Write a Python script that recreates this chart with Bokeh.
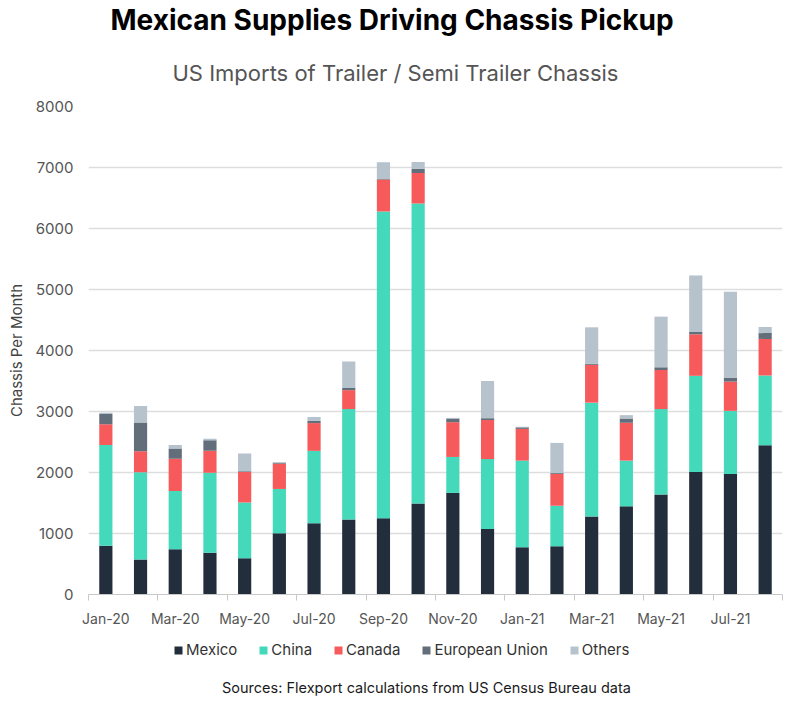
from bokeh.plotting import figure
from bokeh.layouts import column
from bokeh.models import (ColumnDataSource, Range1d, FixedTicker, Legend,
                          LegendItem, Title, Label)
from bokeh.embed import file_html
from bokeh.resources import INLINE

# Monthly US imports of trailer / semi-trailer chassis by origin
months = ["Jan-20", "Feb-20", "Mar-20", "Apr-20", "May-20", "Jun-20",
          "Jul-20", "Aug-20", "Sep-20", "Oct-20", "Nov-20", "Dec-20",
          "Jan-21", "Feb-21", "Mar-21", "Apr-21", "May-21", "Jun-21",
          "Jul-21", "Aug-21"]
mexico = [800, 575, 740, 685, 595, 1005, 1170, 1230, 1250, 1490, 1665, 1075,
          775, 790, 1280, 1445, 1640, 2010, 1975, 2445]
china = [1650, 1430, 955, 1310, 915, 725, 1185, 1810, 5030, 4920, 590, 1145,
         1420, 665, 1865, 750, 1400, 1575, 1035, 1145]
canada = [340, 345, 530, 360, 500, 415, 455, 310, 525, 500, 570, 640,
          520, 520, 620, 620, 640, 680, 480, 600]
eu = [170, 470, 170, 175, 10, 15, 35, 35, 5, 70, 60, 30,
      25, 15, 15, 70, 45, 45, 65, 95]
others = [20, 270, 55, 25, 290, 10, 65, 435, 275, 110, 10, 610,
          10, 495, 600, 55, 830, 920, 1410, 100]

series = ["Mexico", "China", "Canada", "European Union", "Others"]
colors = ["#222e3c", "#44d9bb", "#f75a5b", "#636e7b", "#b6c2cc"]
y_ticks = [0, 1000, 2000, 3000, 4000, 5000, 6000, 7000, 8000]

FONT = "Inter"

xs = list(range(len(months)))
source = ColumnDataSource(dict(x=xs, Mexico=mexico, China=china, Canada=canada,
                               **{"European Union": eu}, Others=others))

# ---- main chart -----------------------------------------------------------
p = figure(width=800, height=632,
           output_backend="svg", toolbar_location=None,
           x_range=Range1d(-0.5, len(months) - 0.5),
           y_range=Range1d(0, 8000),
           min_border_left=88, min_border_right=18,
           min_border_top=105, min_border_bottom=38)
p.outline_line_color = None

renderers = p.vbar_stack(series, x="x", width=0.38, color=colors,
                         line_color=None, source=source)

# x axis: labels on every other month, tick marks at the month boundaries
p.xaxis.ticker = FixedTicker(ticks=xs[::2],
                             minor_ticks=[i - 0.5 for i in xs[::2]] + [len(xs) - 0.5])
p.xaxis.major_label_overrides = {i: months[i] for i in xs[::2]}
p.xaxis.major_tick_line_color = None
p.xaxis.major_tick_in = 0
p.xaxis.major_tick_out = 0
p.xaxis.minor_tick_in = 0
p.xaxis.minor_tick_out = 6
p.xaxis.minor_tick_line_color = "#c8c8c8"
p.xaxis.axis_line_color = "#c8c8c8"
p.xaxis.major_label_standoff = 9
p.xaxis.major_label_text_font = FONT
p.xaxis.major_label_text_font_size = "14px"
p.xaxis.major_label_text_color = "#555555"
p.xgrid.grid_line_color = None

p.yaxis.ticker = FixedTicker(ticks=y_ticks)
p.yaxis.axis_line_color = None
p.yaxis.major_tick_line_color = None
p.yaxis.major_tick_in = 0
p.yaxis.major_tick_out = 0
p.yaxis.minor_tick_line_color = None
p.yaxis.major_label_standoff = 15
p.yaxis.major_label_text_font = FONT
p.yaxis.major_label_text_font_size = "15px"
p.yaxis.major_label_text_color = "#555555"
p.yaxis.axis_label = "Chassis Per Month"
p.yaxis.axis_label_text_font = FONT
p.yaxis.axis_label_text_font_size = "15px"
p.yaxis.axis_label_text_font_style = "normal"
p.yaxis.axis_label_text_color = "#444444"
p.yaxis.axis_label_standoff = 6
p.ygrid.grid_line_color = "#dddddd"
p.ygrid.grid_line_width = 1.5

p.add_layout(Title(text="US Imports of Trailer / Semi Trailer Chassis",
                   align="left", offset=84, standoff=42,
                   text_font=FONT, text_font_size="22px",
                   text_font_style="normal", text_color="#555555"), "above")
p.add_layout(Title(text="Mexican Supplies Driving Chassis Pickup",
                   align="left", offset=22, standoff=0,
                   text_font=FONT, text_font_size="28px",
                   text_font_style="bold", text_color="#000000"), "above")

# ---- legend strip and source note ----------------------------------------
# (its frame lines up with the chart's frame inside the column)
f = figure(width=800, height=69, output_backend="svg", toolbar_location=None,
           x_range=Range1d(0, 1), y_range=Range1d(0, 1),
           x_axis_type=None, y_axis_type=None, min_border=0)
f.outline_line_color = None
f.grid.visible = False

# hidden copies of each series, used only as legend swatches
swatches = [f.vbar(x="x", top=s, width=0.5, color=c, line_color=None,
                   source=source, visible=False)
            for s, c in zip(series, colors)]
legend = Legend(items=[LegendItem(label=s, renderers=[r])
                       for s, r in zip(series, swatches)],
                orientation="horizontal", location=(85, 42),
                glyph_width=10, glyph_height=10, spacing=21,
                label_standoff=3, padding=0, margin=0,
                label_text_font=FONT, label_text_font_size="15px",
                label_text_color="#333333",
                border_line_color=None, background_fill_alpha=0)
f.add_layout(legend, "center")

f.add_layout(Label(x=338, y=14, x_units="screen", y_units="screen",
                   text="Sources: Flexport calculations from US Census Bureau data",
                   text_align="center", text_baseline="middle",
                   text_font=FONT, text_font_size="14.5px",
                   text_color="#1a1a1a"))

layout = column(p, f, spacing=0)
open("out.html", "w").write(file_html(layout, INLINE))
